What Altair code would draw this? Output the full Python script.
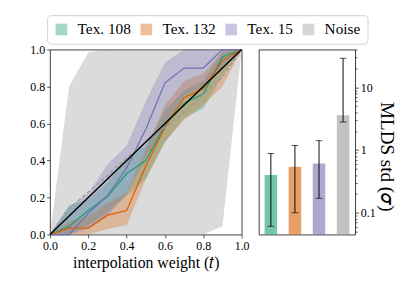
import altair as alt
import pandas as pd

# ---------------- data ----------------
t_vals = [0.0, 0.1, 0.2, 0.3, 0.4, 0.5, 0.6, 0.7, 0.8, 0.9, 1.0]

tex108_mean = [0.0, 0.045, 0.13, 0.205, 0.33, 0.40, 0.59, 0.71, 0.76, 0.96, 1.0]
tex108_lo = [0.0, 0.0, 0.05, 0.12, 0.21, 0.30, 0.50, 0.63, 0.68, 0.86, 1.0]
tex108_hi = [0.0, 0.16, 0.19, 0.28, 0.41, 0.48, 0.67, 0.78, 0.83, 0.99, 1.0]

tex132_mean = [0.0, 0.035, 0.035, 0.105, 0.13, 0.37, 0.58, 0.74, 0.79, 0.94, 1.0]
tex132_lo = [0.0, 0.0, 0.0, 0.03, 0.05, 0.30, 0.50, 0.62, 0.70, 0.80, 1.0]
tex132_hi = [0.0, 0.07, 0.10, 0.17, 0.23, 0.46, 0.70, 0.83, 0.87, 0.99, 1.0]

tex15_mean = [0.0, 0.0, 0.115, 0.21, 0.36, 0.57, 0.82, 0.90, 0.90, 1.0, 1.0]
tex15_lo = [0.0, 0.0, 0.03, 0.10, 0.22, 0.42, 0.58, 0.75, 0.80, 0.90, 1.0]
tex15_hi = [0.0, 0.15, 0.22, 0.38, 0.48, 0.72, 0.93, 1.0, 1.0, 1.0, 1.0]

noise_mean = [0.0, 0.14, 0.23, 0.32, 0.415, 0.50, 0.58, 0.66, 0.76, 0.85, 1.0]
noise_lo = [0.0, 0.0, 0.0, 0.0, 0.0, 0.0, 0.0, 0.0, 0.0, 0.045, 1.0]
noise_hi = [0.0, 0.80, 0.985, 1.0, 1.0, 1.0, 1.0, 1.0, 1.0, 1.0, 1.0]

diag_t = [0.0, 1.0]
diag_v = [0.0, 1.0]

categories = ["Tex. 108", "Tex. 132", "Tex. 15", "Noise"]
colors = ["#1b9e77", "#d95f02", "#7570b3", "#999999"]
bar_std = [0.40, 0.54, 0.61, 3.6]
err_lo = [0.061, 0.10, 0.17, 2.8]
err_hi = [0.88, 1.18, 1.41, 29.0]
log_floor = 0.045

axis_ticks = [0.0, 0.2, 0.4, 0.6, 0.8, 1.0]
log_major = [0.1, 1, 10]
log_minor = [0.05, 0.06, 0.07, 0.08, 0.09, 0.2, 0.3, 0.4, 0.5, 0.6, 0.7, 0.8, 0.9,
             2, 3, 4, 5, 6, 7, 8, 9, 20, 30, 40]

# ---------------- frames ----------------
rows = []
for name, m, lo, hi in [("Tex. 108", tex108_mean, tex108_lo, tex108_hi),
                        ("Tex. 132", tex132_mean, tex132_lo, tex132_hi),
                        ("Tex. 15", tex15_mean, tex15_lo, tex15_hi),
                        ("Noise", noise_mean, noise_lo, noise_hi)]:
    for i, t in enumerate(t_vals):
        rows.append({"series": name, "t": t, "mean": m[i], "lo": lo[i], "hi": hi[i]})
curves = pd.DataFrame(rows)
tex_curves = curves[curves.series != "Noise"]
noise_curves = curves[curves.series == "Noise"]
diag = pd.DataFrame({"t": diag_t, "v": diag_v})
bars = pd.DataFrame({"series": categories, "std": bar_std, "lo": err_lo, "hi": err_hi,
                     "floor": [log_floor] * len(categories)})

W1, H = 201, 194
W2 = 101
FONT = "Liberation Serif"

color_scale = alt.Scale(domain=categories, range=colors)
xs = alt.Scale(domain=[0, 1], nice=False)
ys = alt.Scale(domain=[0, 1], nice=False)
x_axis = alt.Axis(values=axis_ticks, format=".1f", title="interpolation weight (𝑡)",
                  titlePadding=4, labelOverlap=False, titleFontSize=16.5)
y_axis = alt.Axis(values=axis_ticks, format=".1f", title=None, labelOverlap=False)

X = alt.X("t:Q", scale=xs, axis=x_axis)

legend = alt.Legend(
    title=None, orient="none", legendX=-3, legendY=-36, direction="horizontal",
    columns=4, symbolType="square", symbolSize=150, symbolOpacity=0.4,
    symbolStrokeWidth=0, labelFontSize=16, labelFont=FONT, labelOffset=9,
    columnPadding=8, padding=7, strokeColor="#d0d0d0", fillColor="white",
    cornerRadius=4,
)

noise_band = alt.Chart(noise_curves).mark_area(opacity=0.35, color="#999999").encode(
    x=X,
    y=alt.Y("lo:Q", scale=ys, axis=y_axis),
    y2="hi:Q",
)
tex_bands = alt.Chart(tex_curves).mark_area(opacity=0.3).encode(
    x=X,
    y=alt.Y("lo:Q", scale=ys, axis=y_axis),
    y2="hi:Q",
    color=alt.Color("series:N", scale=color_scale, legend=legend),
)
tex_lines = alt.Chart(tex_curves).mark_line(strokeWidth=1.3).encode(
    x=X, y=alt.Y("mean:Q", scale=ys, axis=y_axis),
    color=alt.Color("series:N", scale=color_scale, legend=None),
)
noise_line = alt.Chart(noise_curves).mark_line(
    strokeWidth=1.3, color="#9a9a9a", strokeDash=[4, 2.5]).encode(
    x=X, y=alt.Y("mean:Q", scale=ys, axis=y_axis))
diag_line = alt.Chart(diag).mark_line(strokeWidth=1.5, color="black").encode(
    x=X, y=alt.Y("v:Q", scale=ys, axis=y_axis))

left = alt.layer(noise_band, tex_bands, tex_lines, noise_line, diag_line).properties(
    width=W1, height=H)

ylog = alt.Scale(type="log", domain=[log_floor, 40], nice=False)
major_test = "datum.value == 0.1 || datum.value == 1 || datum.value == 10"
right_axis = alt.Axis(
    orient="right", values=log_major + log_minor, title="MLDS std (𝜎)",
    labelExpr="datum.value == 0.1 ? '0.1' : datum.value == 1 ? '1' : datum.value == 10 ? '10' : ''",
    tickSize={"condition": {"test": major_test, "value": 3.5}, "value": 2},
    titlePadding=1, titleFontSize=20, titleY=112, titleAnchor="middle",
    labelOverlap=False,
)
xb = alt.X("series:N", scale=alt.Scale(domain=categories, paddingInner=0.48,
                                       paddingOuter=0.24), axis=None)
YL = alt.Y("std:Q", scale=ylog, axis=right_axis)
bar = alt.Chart(bars).mark_bar(opacity=0.6).encode(
    x=xb,
    y=YL,
    y2="floor:Q",
    color=alt.Color("series:N", scale=color_scale, legend=None),
)
rule = alt.Chart(bars).mark_rule(color="black", strokeWidth=1).encode(
    x=xb, y=alt.Y("lo:Q", scale=ylog, axis=right_axis), y2="hi:Q")
cap_lo = alt.Chart(bars).mark_tick(color="black", thickness=1, size=7).encode(
    x=xb, y=alt.Y("lo:Q", scale=ylog, axis=right_axis))
cap_hi = alt.Chart(bars).mark_tick(color="black", thickness=1, size=7).encode(
    x=xb, y=alt.Y("hi:Q", scale=ylog, axis=right_axis))
right = alt.layer(bar, rule, cap_lo, cap_hi).properties(width=W2, height=H)

chart = alt.hconcat(left, right, spacing=8).resolve_scale(
    x="independent", y="independent", color="shared"
).properties(
    padding={"left": 22, "top": 0, "right": 3, "bottom": 0}
).configure(font=FONT).configure_view(
    stroke="#222222", strokeWidth=0.9
).configure_axis(
    grid=False, domain=False, tickColor="#222222", tickWidth=0.8, tickSize=3.5,
    labelFont=FONT, titleFont=FONT, labelOverlap=False, labelFlush=False,
    labelFontSize=12.5, labelColor="black", labelPadding=2, titleFontSize=17,
    titleFontWeight="normal", titleColor="black",
).configure_legend(labelColor="black", labelFont=FONT)

chart.save("out.html", embed_options={"renderer": "svg", "actions": False})
